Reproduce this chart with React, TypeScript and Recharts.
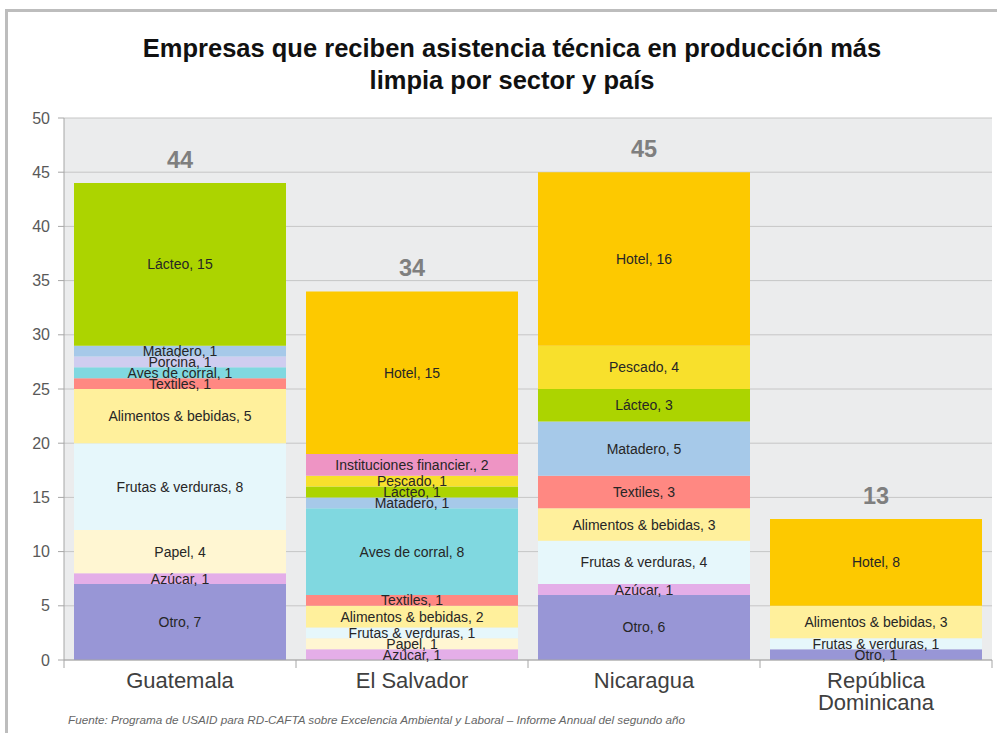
import { ComposedChart, Bar, Line, XAxis, YAxis, CartesianGrid, LabelList } from "recharts";

const countries = ["Guatemala", "El Salvador", "Nicaragua", "República Dominicana"];
const totals = [44, 34, 45, 13];
const yTicks = [0, 5, 10, 15, 20, 25, 30, 35, 40, 45, 50];

// stacking order, bottom to top
const sectors = [
  "Otro",
  "Azúcar",
  "Papel",
  "Frutas & verduras",
  "Alimentos & bebidas",
  "Textiles",
  "Aves de corral",
  "Porcina",
  "Matadero",
  "Lácteo",
  "Pescado",
  "Instituciones financier.",
  "Hotel",
];

// values per country: Guatemala, El Salvador, Nicaragua, Rep. Dominicana
const otro = [7, 0, 6, 1];
const azucar = [1, 1, 1, 0];
const papel = [4, 1, 0, 0];
const frutas = [8, 1, 4, 1];
const alimentos = [5, 2, 3, 3];
const textiles = [1, 1, 3, 0];
const aves = [1, 8, 0, 0];
const porcina = [1, 0, 0, 0];
const matadero = [1, 1, 5, 0];
const lacteo = [15, 1, 3, 0];
const pescado = [0, 1, 4, 0];
const instituciones = [0, 2, 0, 0];
const hotel = [0, 15, 16, 8];

const sectorValues = [otro, azucar, papel, frutas, alimentos, textiles, aves, porcina, matadero, lacteo, pescado, instituciones, hotel];

const sectorColors = [
  "#9896d6",
  "#e4aee8",
  "#fff6d2",
  "#e6f7fb",
  "#fff09c",
  "#ff8882",
  "#80d8e0",
  "#cfcdf0",
  "#a6c9e9",
  "#acd400",
  "#f8e02c",
  "#ee94c4",
  "#fdc900",
];

const data = countries.map((country, i) => {
  const row: Record<string, string | number> = { country, total: totals[i] };
  sectorValues.forEach((vals, s) => {
    row["s" + s] = vals[i];
  });
  return row;
});

const W = 997;
const H = 733;
const M = { top: 118, right: 5, bottom: 23, left: 14 };
const Y_W = 50;
const X_H = 50;
const PLOT_W = W - M.left - M.right - Y_W;
const AXIS_COLOR = "#a6a6a6";

const segLabel = (name: string) => (p: any) => {
  let v = p.value;
  if (Array.isArray(v)) v = v[1] - v[0];
  v = Number(v);
  if (!v) return null;
  const x = Number(p.x) + Number(p.width) / 2;
  const y = Number(p.y) + Number(p.height) / 2;
  return (
    <text x={x} y={y} textAnchor="middle" dominantBaseline="central" fontSize={14} fill="#262626">
      {`${name}, ${v}`}
    </text>
  );
};

const totalLabel = (p: any) => (
  <text x={p.x} y={Number(p.y) - 15} textAnchor="middle" fontSize={23.5} fontWeight="bold" fill="#7f7f7f">
    {p.value}
  </text>
);

const CountryTick = (p: any) => {
  const label = String(p.payload.value);
  const lines = label.length > 12 ? label.split(" ") : [label];
  const band = PLOT_W / countries.length;
  const left = p.x - band / 2;
  return (
    <g>
      <line x1={left} x2={left} y1={p.y} y2={p.y + 8} stroke={AXIS_COLOR} />
      {p.index === countries.length - 1 && (
        <line x1={p.x + band / 2} x2={p.x + band / 2} y1={p.y} y2={p.y + 8} stroke={AXIS_COLOR} />
      )}
      <text x={p.x} y={p.y + 28} textAnchor="middle" fontSize={22} fill="#404040">
        {lines.map((l, i) => (
          <tspan key={i} x={p.x} dy={i === 0 ? 0 : 22}>
            {l}
          </tspan>
        ))}
      </text>
    </g>
  );
};

export default function App() {
  return (
    <div
      style={{
        position: "absolute",
        left: 0,
        top: 0,
        width: W,
        height: H,
        background: "#fff",
        fontFamily: "'Liberation Sans', Arial, sans-serif",
        overflow: "hidden",
      }}
    >
      <div
        style={{
          position: "absolute",
          left: 5,
          top: 9,
          width: W,
          height: H,
          borderTop: "3px solid #bdbdbd",
          borderLeft: "3px solid #bdbdbd",
        }}
      />
      <div
        style={{
          position: "absolute",
          left: 27,
          width: 970,
          top: 32,
          textAlign: "center",
          fontSize: 25.5,
          fontWeight: "bold",
          lineHeight: "32px",
          color: "#111",
        }}
      >
        Empresas que reciben asistencia técnica en producción más
        <br />
        limpia por sector y país
      </div>
      <div style={{ position: "absolute", left: 0, top: 0 }}>
        <ComposedChart width={W} height={H} data={data} margin={M} barCategoryGap={10}>
          <CartesianGrid vertical={false} stroke="#c6c6c6" fill="#ebeced" />
          <XAxis
            dataKey="country"
            height={X_H}
            tickLine={false}
            tickSize={0}
            tickMargin={0}
            axisLine={{ stroke: AXIS_COLOR }}
            tick={<CountryTick />}
            interval={0}
          />
          <YAxis
            width={Y_W}
            domain={[0, 50]}
            ticks={yTicks}
            tickSize={6}
            tickMargin={8}
            tickLine={{ stroke: AXIS_COLOR }}
            axisLine={{ stroke: AXIS_COLOR }}
            tick={{ fontSize: 16, fill: "#595959" }}
          />
          {sectors.map((name, s) => (
            <Bar key={name} dataKey={"s" + s} stackId="a" fill={sectorColors[s]} isAnimationActive={false}>
              <LabelList dataKey={"s" + s} content={segLabel(name)} />
            </Bar>
          ))}
          <Line dataKey="total" stroke="none" dot={false} activeDot={false} legendType="none" isAnimationActive={false}>
            <LabelList dataKey="total" content={totalLabel} />
          </Line>
        </ComposedChart>
      </div>
      <div
        style={{
          position: "absolute",
          left: 68,
          top: 713,
          fontSize: 11.7,
          fontStyle: "italic",
          color: "#666",
          whiteSpace: "nowrap",
        }}
      >
        Fuente: Programa de USAID para RD-CAFTA sobre Excelencia Ambiental y Laboral – Informe Annual del segundo año
      </div>
    </div>
  );
}
